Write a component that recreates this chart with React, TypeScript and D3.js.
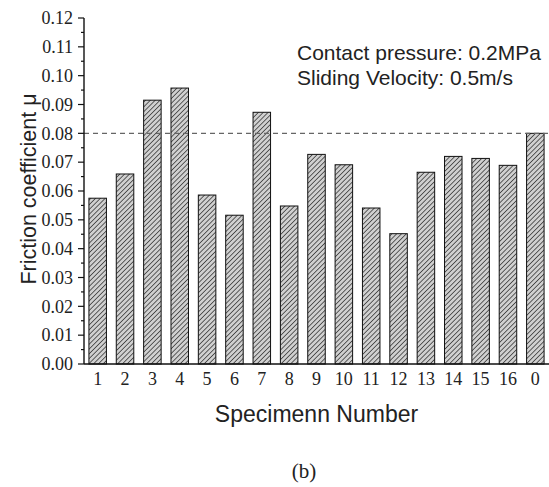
import React from "react";
import * as d3 from "d3";

const categories = ["1", "2", "3", "4", "5", "6", "7", "8", "9", "10", "11", "12", "13", "14", "15", "16", "0"];
const values = [0.0575, 0.0659, 0.0915, 0.0957, 0.0586, 0.0516, 0.0873, 0.0548, 0.0727, 0.0691, 0.0541, 0.0452, 0.0665, 0.072, 0.0713, 0.0689, 0.08];
const yTicks = [0, 0.01, 0.02, 0.03, 0.04, 0.05, 0.06, 0.07, 0.08, 0.09, 0.1, 0.11, 0.12];
const yMinorTicks = [0.005, 0.015, 0.025, 0.035, 0.045, 0.055, 0.065, 0.075, 0.085, 0.095, 0.105, 0.115];
const referenceLine = 0.08;
const annotation = ["Contact pressure: 0.2MPa", "Sliding Velocity: 0.5m/s"];

const W = 549;
const H = 487;
const left = 84;
const right = 549;
const top = 18;
const bottom = 364;

export default function App() {
  const x = d3.scaleBand<string>().domain(categories).range([left, right]).paddingInner(0.36).paddingOuter(0.18);
  const y = d3.scaleLinear().domain([0, 0.12]).range([bottom, top]);
  const sans = "'Liberation Sans', Arial, sans-serif";
  const serif = "'Liberation Serif', 'Times New Roman', serif";
  return (
    <svg width={W} height={H} style={{ position: "absolute", left: 0, top: 0, background: "#fff" }}>
      <defs>
        <pattern id="hatch" patternUnits="userSpaceOnUse" width={3.4} height={3.4} patternTransform="rotate(45)">
          <rect width={3.4} height={3.4} fill="#d0d0d0" />
          <line x1={0} y1={0} x2={0} y2={3.4} stroke="#333" strokeWidth={1.5} />
        </pattern>
      </defs>
      {categories.map((c, i) => (
        <rect
          key={c}
          x={x(c)}
          y={y(values[i])}
          width={x.bandwidth()}
          height={y(0) - y(values[i])}
          fill="url(#hatch)"
          stroke="#111"
          strokeWidth={1}
        />
      ))}
      <line x1={left} x2={right} y1={y(referenceLine)} y2={y(referenceLine)} stroke="#666" strokeWidth={1.2} strokeDasharray="5,4" />
      <line x1={left} x2={left} y1={top} y2={bottom} stroke="#111" strokeWidth={1.4} />
      <line x1={left} x2={right} y1={bottom} y2={bottom} stroke="#111" strokeWidth={1.4} />
      {yTicks.map((t) => (
        <g key={t}>
          <line x1={left - 6} x2={left} y1={y(t)} y2={y(t)} stroke="#111" strokeWidth={1.2} />
          <text x={left - 11} y={y(t)} dy="0.35em" textAnchor="end" fontFamily={serif} fontSize={18} fill="#222">
            {t.toFixed(2)}
          </text>
        </g>
      ))}
      {yMinorTicks.map((t) => (
        <line key={t} x1={left - 3} x2={left} y1={y(t)} y2={y(t)} stroke="#111" strokeWidth={1.2} />
      ))}
      {categories.map((c) => (
        <text key={c} x={(x(c) as number) + x.bandwidth() / 2} y={385} textAnchor="middle" fontFamily={serif} fontSize={18} fill="#222">
          {c}
        </text>
      ))}
      <text transform="translate(36,189) rotate(-90)" textAnchor="middle" fontFamily={sans} fontSize={21.5} fill="#222">
        Friction coefficient μ
      </text>
      <text x={(left + right) / 2} y={422} textAnchor="middle" fontFamily={sans} fontSize={23} fill="#222">
        Specimenn Number
      </text>
      <text x={304} y={478} textAnchor="middle" fontFamily={serif} fontSize={21} fill="#222">
        (b)
      </text>
      {annotation.map((a, i) => (
        <text key={a} x={297} y={60 + i * 25} fontFamily={sans} fontSize={21} fill="#222">
          {a}
        </text>
      ))}
    </svg>
  );
}
